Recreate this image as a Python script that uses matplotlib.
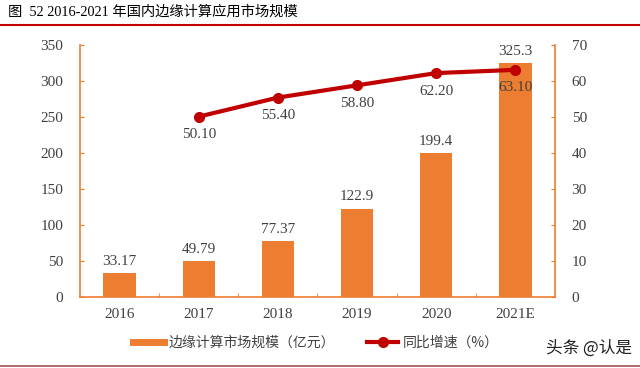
import matplotlib
matplotlib.use("Agg")
import matplotlib.pyplot as plt
from matplotlib.lines import Line2D

years = ["2016", "2017", "2018", "2019", "2020", "2021E"]
market = [33.17, 49.79, 77.37, 122.9, 199.4, 325.3]
market_labels = ["33.17", "49.79", "77.37", "122.9", "199.4", "325.3"]
growth_years = ["2017", "2018", "2019", "2020", "2021E"]
growth = [50.10, 55.40, 58.80, 62.20, 63.10]
growth_labels = ["50.10", "55.40", "58.80", "62.20", "63.10"]

serif = ["Liberation Serif", "Noto Sans CJK SC"]
cjk = ["Noto Sans CJK SC", "DejaVu Sans"]
bar_c = "#ED7D31"
line_c = "#C00000"
txt_c = "#404040"

fig = plt.figure(figsize=(6.4, 3.68), dpi=100)
ax = fig.add_axes([80/640, 1-297/368, 475/640, 252/368])
ax2 = ax.twinx()

x = list(range(len(years)))
ax.bar(x, market, width=0.41, color=bar_c, zorder=2)
for xi, v, lab in zip(x, market, market_labels):
    ax.text(xi, v + 7, lab, ha="center", va="bottom", fontsize=11, family=serif, color=txt_c)

gx = [years.index(y) for y in growth_years]
ax2.plot(gx, growth, color=line_c, lw=3, marker="o", ms=7, zorder=3)
for xi, v, lab in zip(gx, growth, growth_labels):
    ax2.text(xi, v - 3.2, lab, ha="center", va="top", fontsize=11, family=serif, color=txt_c)

ax.set_xlim(-0.5, len(years) - 0.5)
ax.set_ylim(0, 350)
ax2.set_ylim(0, 70)
ax.set_yticks(range(0, 351, 50))
ax2.set_yticks(range(0, 71, 10))
ax.set_xticks(x)
ax.set_xticklabels(years)
ax.set_xticks([i + 0.5 for i in range(len(years) - 1)], minor=True)

for a in (ax, ax2):
    for s in a.spines.values():
        s.set_visible(False)
    a.tick_params(colors=bar_c, labelcolor=txt_c, labelsize=11, length=3)
    for lab in a.get_yticklabels() + a.get_xticklabels():
        lab.set_family(serif)
ax.spines["left"].set_visible(True)
ax.spines["bottom"].set_visible(True)
ax2.spines["right"].set_visible(True)
for s in (ax.spines["left"], ax.spines["bottom"], ax2.spines["right"]):
    s.set_color(bar_c)
    s.set_linewidth(1.2)
ax.tick_params(axis="x", which="major", length=0, pad=8)
ax.tick_params(axis="x", which="minor", direction="in", length=3, color=bar_c)
ax.tick_params(axis="y", direction="in", pad=12)
ax2.tick_params(axis="y", direction="in", pad=12)

fig.text(8/640, 1-12/368, "图  52 2016-2021 年国内边缘计算应用市场规模", fontsize=10.3,
         family=serif, color="#000000", va="center", ha="left")
fig.add_artist(Line2D([0, 1], [1-25/368, 1-25/368], color="#C00000", lw=1.5))
fig.add_artist(Line2D([0, 1], [1-366/368, 1-366/368], color="#A05050", lw=1.2))

handles = [Line2D([0], [0], color=bar_c, lw=5),
           Line2D([0], [0], color=line_c, lw=3, marker="o", ms=7)]
leg = fig.legend(handles, ["边缘计算市场规模（亿元）", "同比增速（%）"], loc="center",
                 bbox_to_anchor=(316/640, 1-343/368), ncol=2, frameon=False,
                 prop={"family": cjk, "size": 10}, handlelength=2.2, handletextpad=0.35,
                 columnspacing=2.3)
for t in leg.get_texts():
    t.set_color(txt_c)

fig.text(632/640, 1-348/368, "头条 @认是", fontsize=12, family=cjk, color="#202020",
         ha="right", va="center")

fig.savefig("out.png", dpi=100)
